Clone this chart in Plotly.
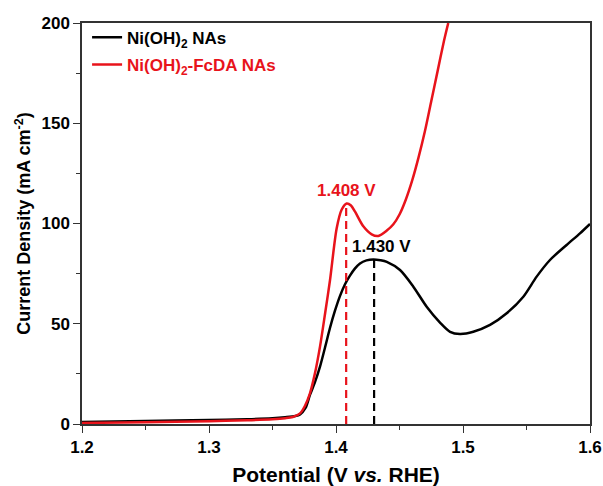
import plotly.graph_objects as go

# Ni(OH)2 NAs (black)
v_black = [1.20, 1.25, 1.30, 1.33, 1.35, 1.36, 1.368, 1.3717, 1.376, 1.3795, 1.3835, 1.3874, 1.3915, 1.3953,
           1.3992, 1.4031, 1.407, 1.411, 1.415, 1.4189, 1.424, 1.4294, 1.435, 1.44, 1.4504,
           1.4609, 1.4714, 1.4819, 1.4898, 1.4976, 1.5081,
           1.5213, 1.5344, 1.5475, 1.558, 1.5685, 1.5816, 1.5921, 1.60]
j_black = [1.0, 1.5, 2.0, 2.4, 2.9, 3.4, 4.0, 4.8, 8.0, 14.5, 21.0, 28.6, 38.5, 48.0,
           56.5, 63.8, 69.6, 74.0, 77.6, 80.1, 81.6, 82.1, 81.7, 80.9, 76.8,
           68.5, 58.5, 50.6, 46.0, 44.9, 46.0,
           49.4, 55.2, 63.5, 73.5, 81.8, 89.3, 95.1, 99.8]

# Ni(OH)2-FcDA NAs (red)
v_red = [1.20, 1.25, 1.30, 1.33, 1.35, 1.36, 1.366, 1.3717, 1.3755, 1.3795, 1.3835, 1.3874, 1.3915, 1.3953,
         1.4005, 1.4045, 1.4084, 1.4118, 1.415, 1.4215, 1.4281, 1.4333, 1.44, 1.445, 1.45, 1.455,
         1.46, 1.465, 1.47, 1.475, 1.48, 1.485, 1.4884]
j_red = [0.5, 0.9, 1.4, 1.9, 2.4, 2.9, 3.5, 5.3, 9.0, 15.3, 25.5, 38.6, 55.5, 71.8,
         97.5, 107.0, 110.0, 109.0, 105.9, 98.6, 94.6, 93.8, 96.5, 99.5, 104.5, 112.0,
         121.5, 133.0, 146.0, 161.0, 176.0, 191.0, 200.0]

names = ["<b>Ni(OH)<sub>2</sub> NAs</b>",
         "<span style='color:#e8131b'><b>Ni(OH)<sub>2</sub>-FcDA NAs</b></span>"]
colors = ["#000000", "#e8131b"]

peak_v = [1.408, 1.430]
peak_j = [110.0, 82.1]
peak_labels = ["1.408 V", "1.430 V"]
peak_colors = ["#e8131b", "#000000"]
label_xshift = [0, 7]

x_ticks = [1.2, 1.3, 1.4, 1.5, 1.6]
y_ticks = [0, 50, 100, 150, 200]

FONT = "Arial, Liberation Sans, sans-serif"

fig = go.Figure()
fig.add_trace(go.Scatter(x=v_black, y=j_black, mode="lines", name=names[0], legendgroup="a",
                         line=dict(color=colors[0], width=2.5, shape="spline", smoothing=0.8)))
fig.add_trace(go.Scatter(x=v_red, y=j_red, mode="lines", name=names[1], legendgroup="b",
                         line=dict(color=colors[1], width=2.5, shape="spline", smoothing=0.8)))

for pv, pj, pl, pc, xs in zip(peak_v, peak_j, peak_labels, peak_colors, label_xshift):
    fig.add_trace(go.Scatter(x=[pv, pv], y=[0, pj], mode="lines", showlegend=False,
                             line=dict(color=pc, width=2.2, dash="8px,5px")))
    fig.add_annotation(x=pv, y=pj, text="<b>" + pl + "</b>", showarrow=False,
                       yshift=13, xshift=xs,
                       font=dict(family=FONT, size=17, color=pc))

axis_common = dict(showline=True, linecolor="#333333", linewidth=1.5, mirror=True,
                   ticks="outside", ticklen=7, tickwidth=1.3, tickcolor="#333333",
                   showgrid=False, zeroline=False, automargin=False,
                   tickfont=dict(family=FONT, size=17, color="#000000"))

fig.update_layout(
    width=603, height=486,
    margin=dict(l=82, r=13, t=23, b=62),
    paper_bgcolor="white", plot_bgcolor="white",
    font=dict(family=FONT, color="#000000"),
    legend=dict(x=0.01, y=1.008, xanchor="left", yanchor="top",
                bgcolor="rgba(0,0,0,0)", borderwidth=0,
                font=dict(family=FONT, size=17, color="#000000"),
                traceorder="grouped", tracegroupgap=2),
    showlegend=True,
)
fig.update_xaxes(range=[1.2, 1.6], tickvals=x_ticks, ticktext=[f"<b>{t:.1f}</b>" for t in x_ticks],
                 minor=dict(ticks="outside", dtick=0.05, tick0=1.2, ticklen=4, tickcolor="#333333"),
                 title=dict(text="<b>Potential (V <i>vs.</i> RHE)</b>", font=dict(family=FONT, size=21), standoff=14),
                 **axis_common)
fig.update_yaxes(range=[0, 200], tickvals=y_ticks, ticktext=[f"<b>{t}</b>" for t in y_ticks],
                 minor=dict(ticks="outside", dtick=25, tick0=0, ticklen=4, tickcolor="#333333"),
                 title=dict(text="<b>Current Density (mA cm<sup>-2</sup>)</b>", font=dict(family=FONT, size=18), standoff=6),
                 **axis_common)

fig.write_html("out.html")
